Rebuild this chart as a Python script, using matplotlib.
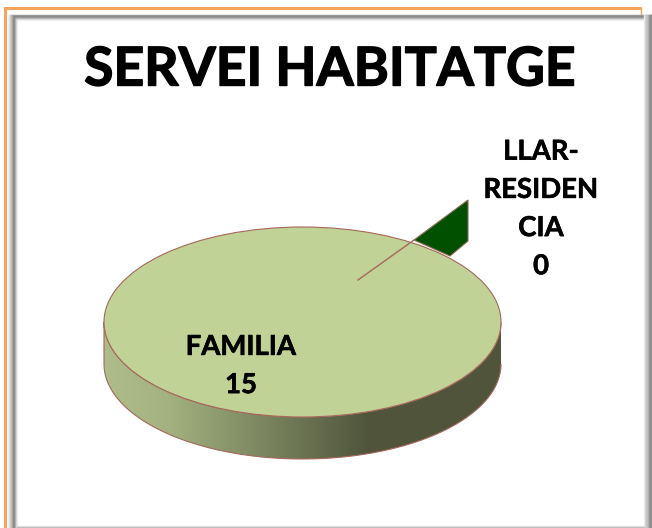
import numpy as np
import matplotlib
matplotlib.use('Agg')
import matplotlib.pyplot as plt
import matplotlib.patheffects as pe
from matplotlib.colors import LinearSegmentedColormap
from matplotlib.patches import Polygon, PathPatch, Ellipse
from matplotlib.path import Path

title = 'SERVEI HABITATGE'
categories = ['FAMILIA', 'LLAR-\nRESIDEN\nCIA']
values = [15, 0]

W, H = 652, 528
cx, cy, rx, ry = 302.5, 322, 198.5, 95
depth = 42

plt.rcParams['font.family'] = ['Lato', 'DejaVu Sans']

fig = plt.figure(figsize=(W / 100, H / 100), dpi=100)
ax = fig.add_axes([0, 0, 1, 1])
ax.set_xlim(0, W)
ax.set_ylim(H, 0)
ax.axis('off')

# frame: orange outer line, then grey bevels
ax.plot([5, 5, 640], [H, 8, 8], color='#f4a460', lw=2.2, solid_joinstyle='miter', zorder=1)
ax.plot([641, 641], [8, 14], color='#f4a460', lw=1, zorder=1)
left_greys = ['#f2f2f2', '#e4e4e4', '#d2d2d2', '#c0c0c0', '#aaaaaa', '#8e8e8e', '#8a8a8a', '#a8a8a8', '#cfcfcf', '#eeeeee']
for i, g in enumerate(left_greys):
    ax.plot([8 + i, 8 + i], [H, 15 + max(i - 4, 0)], color=g, lw=1, zorder=1)
top_greys = ['#9a9a9a', '#8a8a8a', '#939393', '#b0b0b0', '#d4d4d4', '#f0f0f0']
for i, g in enumerate(top_greys):
    ax.plot([13 + i, W], [15 + i, 15 + i], color=g, lw=1, zorder=1)
right_greys = ['#f0f0f0', '#d8d8d8', '#c8c8c8', '#c4c4c4', '#b4b4b4', '#9c9c9c', '#8c8c8c', '#8c8c8c', '#a0a0a0']
for i, g in enumerate(right_greys):
    ax.plot([643.5 + i, 643.5 + i], [15, H], color=g, lw=1, zorder=1)
bottom_greys = ['#e8e8e8', '#c4c4c4', '#a8a8a8']
for i, g in enumerate(bottom_greys):
    ax.plot([17, 644], [525.5 + i, 525.5 + i], color=g, lw=1, zorder=1)

# pie side, shaded from left to right
t = np.linspace(0, np.pi, 200)
side_x = np.r_[cx + rx * np.cos(t), cx + rx * np.cos(t[::-1])]
side_y = np.r_[cy + depth + ry * np.sin(t), cy + ry * np.sin(t[::-1])]
side = Path(np.c_[side_x, side_y])
cmap = LinearSegmentedColormap.from_list('side', [(0, '#aebd89'), (0.16, '#a3b280'), (0.67, '#4f543b'), (1, '#50553c')])
im = ax.imshow(np.linspace(0, 1, 256)[None, :], cmap=cmap, aspect='auto',
               extent=[cx - rx, cx + rx, cy + ry + depth, cy], zorder=2)
patch = PathPatch(side, fc='none', ec='#a5685c', lw=0.8, zorder=3)
ax.add_patch(patch)
im.set_clip_path(patch)
ax.set_xlim(0, W)
ax.set_ylim(H, 0)

# pie top, drawn from the values in its own squashed axes
pie_ax = fig.add_axes([(cx - rx) / W, 1 - (cy + ry) / H, 2 * rx / W, 2 * ry / H], zorder=5)
pie_ax.patch.set_alpha(0)
pie_ax.pie(values, colors=['#c0d296', '#005000'], radius=1, wedgeprops={'linewidth': 0})
pie_ax.set_aspect('auto')
pie_ax.set_xlim(-1, 1)
pie_ax.set_ylim(-1, 1)

# the empty slice, shown as a pulled-out sliver with its leader
over = fig.add_axes([0, 0, 1, 1], zorder=6)
over.set_xlim(0, W)
over.set_ylim(H, 0)
over.axis('off')
over.add_patch(Ellipse((cx, cy), 2 * rx, 2 * ry, fc='none', ec='#a5685c', lw=0.8))
over.add_patch(Polygon([(414, 240), (468, 200), (468, 241), (450, 256)], closed=True,
                       fc='#005000', ec='#8a6a50', lw=0.8))
over.plot([358, 414], [280, 240], color='#a5685c', lw=1)

heavy = [pe.withStroke(linewidth=0.4, foreground='black')]
over.text(329.5, 70, title, fontsize=38.5, fontweight='bold', ha='center', va='center',
          color='black', path_effects=[pe.withStroke(linewidth=1.0, foreground='black')])
over.text(241, 366, f'{categories[0]}\n{values[0]}', fontsize=19.8, fontweight='bold',
          ha='center', va='center', linespacing=1.58, path_effects=heavy)
over.text(541, 209, f'{categories[1]}\n{values[1]}', fontsize=19.8, fontweight='bold',
          ha='center', va='center', linespacing=1.58, path_effects=heavy)

fig.savefig('out.png', dpi=100)
